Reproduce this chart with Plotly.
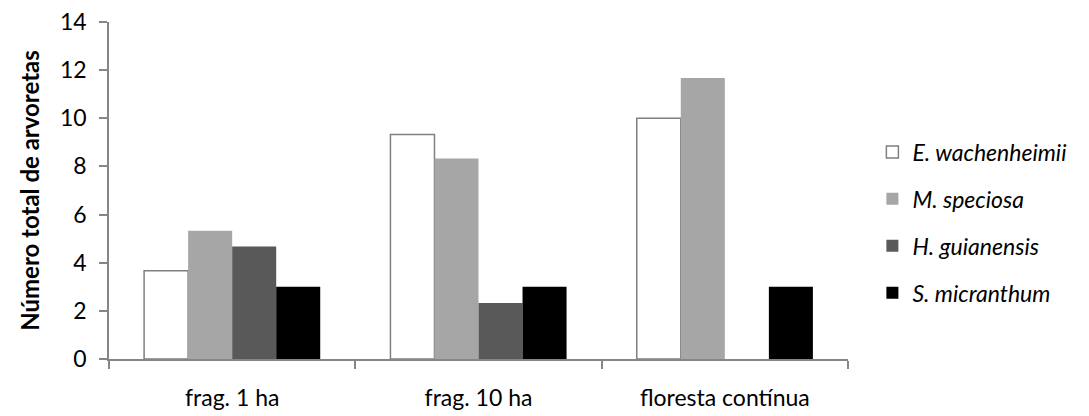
import plotly.graph_objects as go

categories = ["frag. 1 ha", "frag. 10 ha", "floresta contínua"]
series_names = ["E. wachenheimii", "M. speciosa", "H. guianensis", "S. micranthum"]
e_wach = [3.67, 9.33, 10.0]
m_spec = [5.33, 8.33, 11.67]
h_guia = [4.67, 2.33, 0]
s_micr = [3.0, 3.0, 3.0]
y_ticks = [0, 2, 4, 6, 8, 10, 12, 14]

values = [e_wach, m_spec, h_guia, s_micr]
fills = ["#ffffff", "#a6a6a6", "#595959", "#000000"]
lines = ["#7f7f7f", "#a6a6a6", "#595959", "#000000"]
lwidth = [1.5, 0, 0, 0]

FONT = "Lato"
fig = go.Figure()
for name, vals, fc, lc, lw in zip(series_names, values, fills, lines, lwidth):
    fig.add_trace(go.Bar(
        x=categories, y=vals, name=name, legendgroup=name,
        marker=dict(color=fc, line=dict(color=lc, width=lw)),
    ))

fig.update_layout(
    width=1089, height=416,
    margin=dict(l=109, r=241, t=22, b=57),
    paper_bgcolor="white", plot_bgcolor="white",
    barmode="group", bargap=0.285, bargroupgap=0,
    font=dict(family=FONT, size=23, color="#000000"),
    showlegend=True,
    legend=dict(x=1.033, xanchor="left", y=0.405, yanchor="middle",
                font=dict(family=FONT, size=23, style="italic"),
                tracegroupgap=14, itemwidth=30),
    xaxis=dict(showline=True, linecolor="#868686", linewidth=1.5,
               ticks="outside", ticklen=8, tickcolor="#868686", tickwidth=1.5,
               tickson="boundaries", ticklabelstandoff=18, showgrid=False,
               automargin=False),
    yaxis=dict(range=[0, 14], tickvals=y_ticks, showline=True, linecolor="#868686",
               linewidth=1.5, ticks="outside", ticklen=8, tickcolor="#868686",
               tickwidth=1.5, showgrid=False, zeroline=False, ticklabelstandoff=8,
               automargin=False,
               title=dict(text="<b>Número total de arvoretas</b>", standoff=14,
                          font=dict(family=FONT, size=24))),
)
fig.write_html("out.html")
